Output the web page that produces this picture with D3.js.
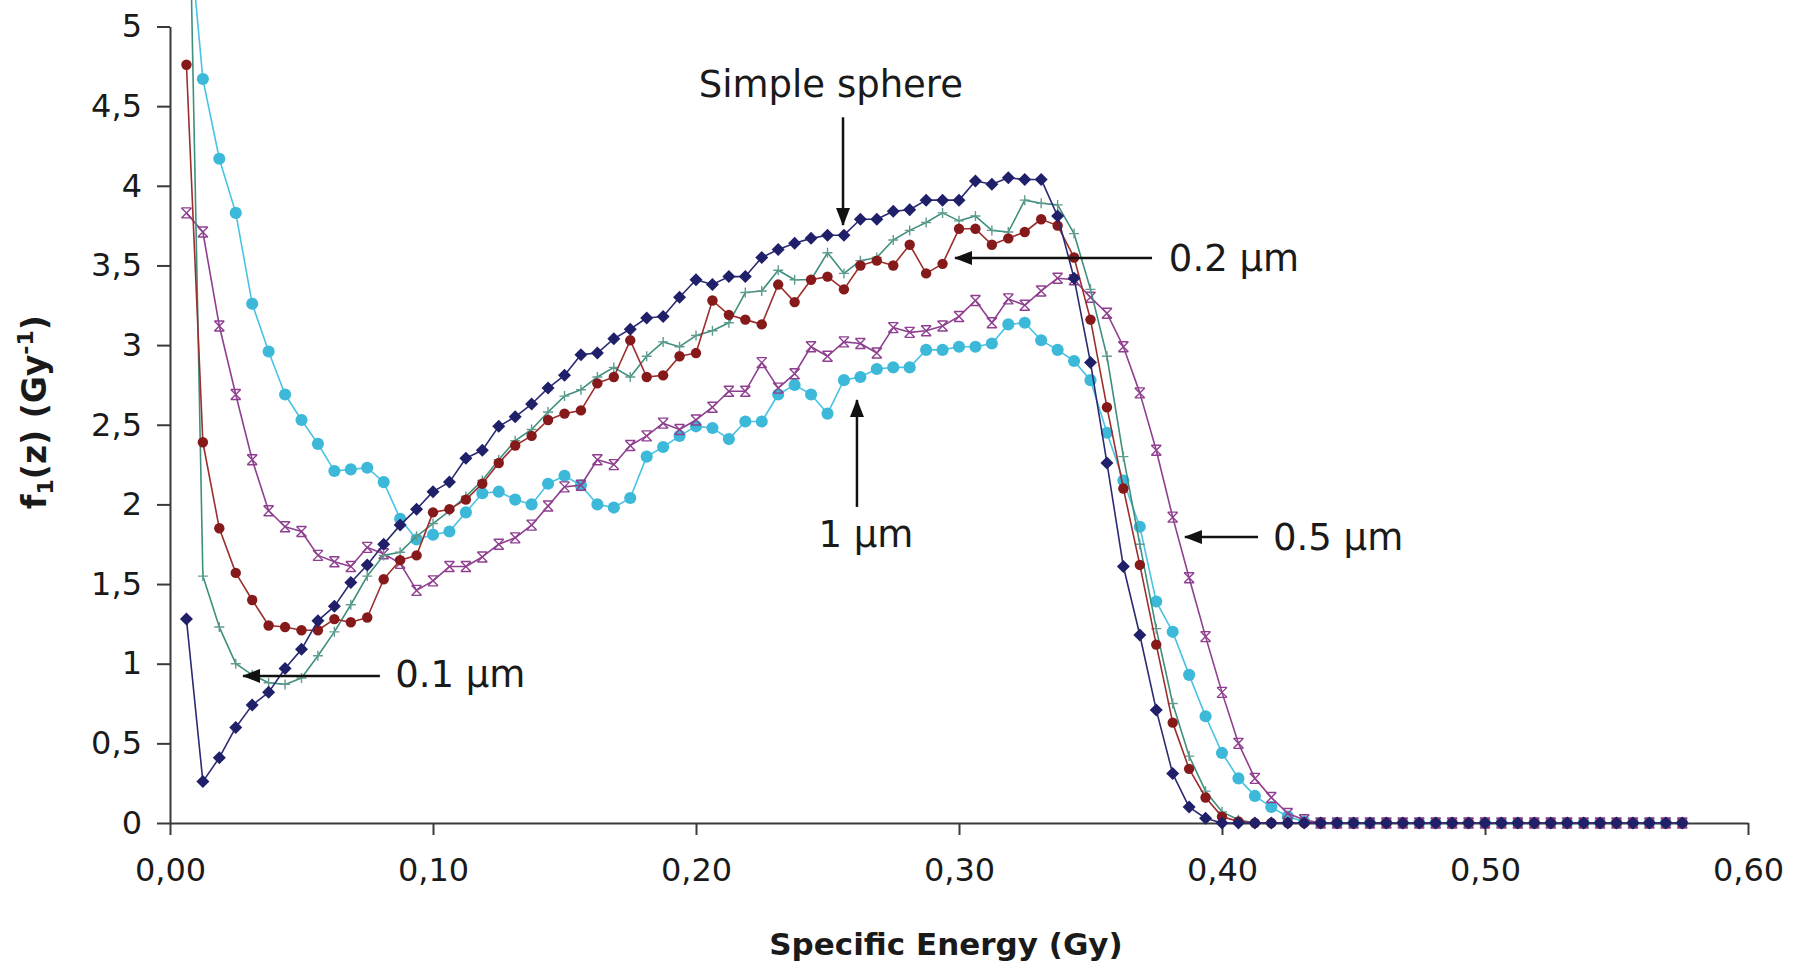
<!DOCTYPE html>
<html lang="en">
<head>
  <meta charset="utf-8">
  <title>f1(z) vs specific energy</title>
  <style type="text/css">
    body {
      margin: 0px;
      padding: 0px;
      background: #ffffff;
    }
    svg {
      display: block;
    }
    text {
      font-family: "DejaVu Sans", sans-serif;
      fill: #1a1a1a;
    }
  </style>
  <script src="https://cdn.jsdelivr.net/npm/d3@7"></script>
</head>
<body>
<div id="root"></div>

<script>
  // specific energy bins (Gy)
  var energy = [
    0.00625, 0.0125, 0.01875, 0.025, 0.03125, 0.0375, 0.04375, 0.05, 0.05625, 0.0625,
    0.06875, 0.075, 0.08125, 0.0875, 0.09375, 0.1, 0.10625, 0.1125, 0.11875, 0.125,
    0.13125, 0.1375, 0.14375, 0.15, 0.15625, 0.1625, 0.16875, 0.175, 0.18125, 0.1875,
    0.19375, 0.2, 0.20625, 0.2125, 0.21875, 0.225, 0.23125, 0.2375, 0.24375, 0.25,
    0.25625, 0.2625, 0.26875, 0.275, 0.28125, 0.2875, 0.29375, 0.3, 0.30625, 0.3125,
    0.31875, 0.325, 0.33125, 0.3375, 0.34375, 0.35, 0.35625, 0.3625, 0.36875, 0.375,
    0.38125, 0.3875, 0.39375, 0.4, 0.40625, 0.4125, 0.41875, 0.425, 0.43125, 0.4375,
    0.44375, 0.45, 0.45625, 0.4625, 0.46875, 0.475, 0.48125, 0.4875, 0.49375, 0.5,
    0.50625, 0.5125, 0.51875, 0.525, 0.53125, 0.5375, 0.54375, 0.55, 0.55625, 0.5625,
    0.56875, 0.575
  ];

  var sphere = [
    1.28, 0.26, 0.41, 0.60, 0.74, 0.82, 0.97, 1.09, 1.27, 1.36,
    1.51, 1.62, 1.75, 1.87, 1.97, 2.08, 2.14, 2.29, 2.34, 2.49,
    2.55, 2.63, 2.73, 2.81, 2.94, 2.95, 3.04, 3.10, 3.17, 3.18,
    3.30, 3.41, 3.38, 3.43, 3.43, 3.55, 3.60, 3.64, 3.67, 3.69,
    3.69, 3.79, 3.79, 3.84, 3.85, 3.91, 3.91, 3.91, 4.03, 4.01,
    4.05, 4.04, 4.04, 3.81, 3.42, 2.89, 2.26, 1.61, 1.18, 0.71,
    0.31, 0.10, 0.03, 0, 0, 0, 0, 0, 0, 0,
    0, 0, 0, 0, 0, 0, 0, 0, 0, 0,
    0, 0, 0, 0, 0, 0, 0, 0, 0, 0,
    0, 0
  ];

  var um01 = [
    6.8, 1.55, 1.23, 1.00, 0.93, 0.88, 0.87, 0.91, 1.05, 1.20,
    1.37, 1.55, 1.68, 1.70, 1.80, 1.88, 1.96, 2.05, 2.15, 2.28,
    2.40, 2.47, 2.58, 2.68, 2.72, 2.80, 2.86, 2.80, 2.93, 3.02,
    2.99, 3.06, 3.09, 3.14, 3.33, 3.34, 3.47, 3.41, 3.41, 3.58,
    3.45, 3.53, 3.55, 3.66, 3.72, 3.77, 3.83, 3.78, 3.81, 3.72,
    3.71, 3.91, 3.89, 3.88, 3.70, 3.35, 2.93, 2.30, 1.75, 1.22,
    0.75, 0.42, 0.20, 0.07, 0.02, 0, 0, 0, 0, 0,
    0, 0, 0, 0, 0, 0, 0, 0, 0, 0,
    0, 0, 0, 0, 0, 0, 0, 0, 0, 0,
    0, 0
  ];

  var um02 = [
    4.76, 2.39, 1.85, 1.57, 1.40, 1.24, 1.23, 1.21, 1.21, 1.28,
    1.26, 1.29, 1.53, 1.65, 1.68, 1.95, 1.97, 2.03, 2.13, 2.26,
    2.37, 2.43, 2.53, 2.57, 2.59, 2.76, 2.80, 3.03, 2.80, 2.81,
    2.93, 2.95, 3.28, 3.19, 3.16, 3.13, 3.38, 3.27, 3.41, 3.43,
    3.35, 3.50, 3.53, 3.50, 3.63, 3.45, 3.51, 3.73, 3.73, 3.63,
    3.67, 3.71, 3.79, 3.75, 3.55, 3.16, 2.61, 2.10, 1.62, 1.12,
    0.63, 0.34, 0.16, 0.04, 0.01, 0, 0, 0, 0, 0,
    0, 0, 0, 0, 0, 0, 0, 0, 0, 0,
    0, 0, 0, 0, 0, 0, 0, 0, 0, 0,
    0, 0
  ];

  var um05 = [
    3.83, 3.71, 3.12, 2.69, 2.28, 1.96, 1.86, 1.83, 1.68, 1.64,
    1.61, 1.73, 1.69, 1.63, 1.46, 1.52, 1.61, 1.61, 1.67, 1.75,
    1.79, 1.87, 1.99, 2.11, 2.12, 2.28, 2.25, 2.37, 2.43, 2.51,
    2.47, 2.53, 2.61, 2.71, 2.71, 2.89, 2.73, 2.82, 2.99, 2.93,
    3.02, 3.01, 2.95, 3.11, 3.08, 3.09, 3.12, 3.18, 3.28, 3.14,
    3.29, 3.25, 3.34, 3.42, 3.41, 3.30, 3.20, 2.99, 2.70, 2.34,
    1.92, 1.54, 1.17, 0.82, 0.50, 0.28, 0.16, 0.06, 0.02, 0,
    0, 0, 0, 0, 0, 0, 0, 0, 0, 0,
    0, 0, 0, 0, 0, 0, 0, 0, 0, 0,
    0, 0
  ];

  var um1 = [
    5.8, 4.67, 4.17, 3.83, 3.26, 2.96, 2.69, 2.53, 2.38, 2.21,
    2.22, 2.23, 2.14, 1.91, 1.78, 1.81, 1.83, 1.95, 2.07, 2.08,
    2.03, 2.00, 2.13, 2.18, 2.12, 2.00, 1.98, 2.04, 2.30, 2.36,
    2.43, 2.49, 2.48, 2.41, 2.52, 2.52, 2.69, 2.75, 2.69, 2.57,
    2.78, 2.80, 2.85, 2.86, 2.86, 2.97, 2.97, 2.99, 2.99, 3.01,
    3.13, 3.14, 3.03, 2.97, 2.90, 2.78, 2.45, 2.15, 1.86, 1.39,
    1.20, 0.93, 0.67, 0.44, 0.28, 0.17, 0.10, 0.04, 0.01, 0,
    0, 0, 0, 0, 0, 0, 0, 0, 0, 0,
    0, 0, 0, 0, 0, 0, 0, 0, 0, 0,
    0, 0
  ];

  var xTicks = [0, 0.1, 0.2, 0.3, 0.4, 0.5, 0.6];
  var yTicks = [0, 0.5, 1, 1.5, 2, 2.5, 3, 3.5, 4, 4.5, 5];

  // labels with arrows, in data units: text anchor point, arrow start, arrow tip
  var labels = ["Simple sphere", "0.2 µm", "0.5 µm", "1 µm", "0.1 µm"];
  var labelAt = [[0.2513, 4.557], [0.3798, 3.465], [0.4194, 1.714], [0.2646, 1.733], [0.0856, 0.854]];
  var labelAnchor = ["middle", "start", "start", "middle", "start"];
  var arrowFrom = [[0.2559, 4.43], [0.3734, 3.547], [0.4137, 1.795], [0.2612, 1.984], [0.0798, 0.923]];
  var arrowTo = [[0.2559, 3.754], [0.2985, 3.547], [0.3859, 1.795], [0.2612, 2.655], [0.0278, 0.923]];

  var width = 1794, height = 964;

  var svg = d3.select("#root")
    .append("svg")
    .attr("width", width)
    .attr("height", height);

  var x = d3.scaleLinear().domain([0, 0.6]).range([170, 1748]);
  var y = d3.scaleLinear().domain([0, 5]).range([823, 26.5]);

  var comma = function(d) { return String(d).replace(".", ","); };

  // axes
  svg.append("g")
    .attr("transform", "translate(0," + y(0) + ")")
    .call(d3.axisBottom(x).tickValues(xTicks).tickSize(12).tickSizeOuter(0).tickPadding(23)
      .tickFormat(function(d) { return d.toFixed(2).replace(".", ","); }));

  svg.append("g")
    .attr("transform", "translate(" + x(0) + ",0)")
    .call(d3.axisLeft(y).tickValues(yTicks).tickSize(13).tickSizeOuter(0).tickPadding(15)
      .tickFormat(comma));

  svg.selectAll(".domain, .tick line")
    .attr("stroke", "#3a3a3a")
    .attr("stroke-width", 2);
  svg.selectAll(".tick text")
    .attr("fill", "#1a1a1a")
    .style("font-family", "'DejaVu Sans', sans-serif")
    .style("font-size", "32px");

  // series, drawn bottom to top
  var series = [
    { name: "1 µm", values: um1, line: "#48c3e3", mark: "#3cb8d8", shape: "circle" },
    { name: "0.5 µm", values: um05, line: "#8f3f8f", mark: "#8f3f8f", shape: "star" },
    { name: "0.1 µm", values: um01, line: "#3f8f7e", mark: "#5f9c8f", shape: "plus" },
    { name: "0.2 µm", values: um02, line: "#9c2e2e", mark: "#861a1a", shape: "dot" },
    { name: "Simple sphere", values: sphere, line: "#2b2b73", mark: "#1f1f6a", shape: "diamond" }
  ];

  var line = d3.line()
    .x(function(d) { return x(d[0]); })
    .y(function(d) { return y(d[1]); });

  series.forEach(function(s) {
    var pts = energy.map(function(e, i) { return [e, s.values[i]]; });

    var g = svg.append("g").attr("class", "series");

    g.append("path")
      .datum(pts)
      .attr("fill", "none")
      .attr("stroke", s.line)
      .attr("stroke-width", 1.6)
      .attr("stroke-linejoin", "round")
      .attr("d", line);

    var m = g.selectAll(".m")
      .data(pts)
      .enter().append("path")
      .attr("class", "m")
      .attr("transform", function(d) { return "translate(" + x(d[0]) + "," + y(d[1]) + ")"; });

    if (s.shape == "circle") {
      m.attr("d", d3.symbol().type(d3.symbolCircle).size(115)).attr("fill", s.mark);
    } else if (s.shape == "dot") {
      m.attr("d", d3.symbol().type(d3.symbolCircle).size(85)).attr("fill", s.mark);
    } else if (s.shape == "diamond") {
      m.attr("d", "M0,-6.5L6.5,0L0,6.5L-6.5,0Z").attr("fill", s.mark);
    } else if (s.shape == "plus") {
      m.attr("d", "M-5,0H5M0,-5V5").attr("fill", "none").attr("stroke", s.mark).attr("stroke-width", 1.4);
    } else {
      m.attr("d", "M-5,-5L5,5M-5,5L5,-5M-5,-5H5M-5,5H5").attr("fill", "none").attr("stroke", s.mark).attr("stroke-width", 1.4);
    }
  });

  // arrows and labels
  svg.append("defs").append("marker")
    .attr("id", "head")
    .attr("markerUnits", "userSpaceOnUse")
    .attr("viewBox", "0 0 18 14")
    .attr("markerWidth", 18)
    .attr("markerHeight", 14)
    .attr("refX", 17)
    .attr("refY", 7)
    .attr("orient", "auto")
    .append("path")
    .attr("d", "M0,0L18,7L0,14Z")
    .attr("fill", "#111");

  labels.forEach(function(t, i) {
    svg.append("line")
      .attr("x1", x(arrowFrom[i][0]))
      .attr("y1", y(arrowFrom[i][1]))
      .attr("x2", x(arrowTo[i][0]))
      .attr("y2", y(arrowTo[i][1]))
      .attr("stroke", "#111")
      .attr("stroke-width", 2.5)
      .attr("marker-end", "url(#head)");

    svg.append("text")
      .attr("x", x(labelAt[i][0]))
      .attr("y", y(labelAt[i][1]))
      .attr("text-anchor", labelAnchor[i])
      .style("font-size", "37px")
      .text(t);
  });

  // axis titles
  svg.append("text")
    .attr("x", 946)
    .attr("y", 955)
    .attr("text-anchor", "middle")
    .style("font-size", "31px")
    .style("font-weight", "bold")
    .text("Specific Energy (Gy)");

  var yt = svg.append("text")
    .attr("transform", "translate(46,412) rotate(-90)")
    .attr("text-anchor", "middle")
    .style("font-size", "33px")
    .style("font-weight", "bold");
  yt.append("tspan").text("f");
  yt.append("tspan").attr("dy", 7).style("font-size", "22px").text("1");
  yt.append("tspan").attr("dy", -7).text("(z) (Gy");
  yt.append("tspan").attr("dy", -13).style("font-size", "22px").text("-1");
  yt.append("tspan").attr("dy", 13).text(")");
</script>

</body>
</html>
